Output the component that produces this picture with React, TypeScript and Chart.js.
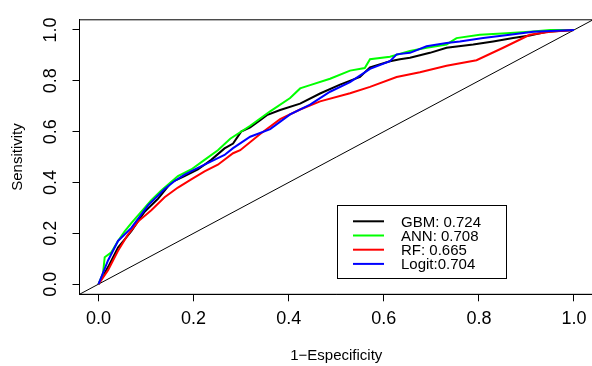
import React, { useEffect, useRef } from "react";
import { Chart, registerables } from "chart.js";

Chart.register(...registerables);

// ---- data ----
const seriesLabels = ["GBM: 0.724", "ANN: 0.708", "RF: 0.665", "Logit:0.704"];
const seriesColors = ["#000000", "#00FF00", "#FF0000", "#0000FF"];

const gbmX = [0, 0.02, 0.041, 0.069, 0.097, 0.125, 0.153, 0.181, 0.209, 0.237, 0.265, 0.283, 0.3, 0.319, 0.34, 0.354, 0.382, 0.424, 0.466, 0.508, 0.55, 0.571, 0.613, 0.634, 0.655, 0.697, 0.732, 0.788, 0.83, 0.872, 0.907, 0.943, 1];
const gbmY = [0, 0.067, 0.144, 0.208, 0.285, 0.336, 0.4, 0.425, 0.451, 0.489, 0.534, 0.553, 0.6, 0.617, 0.645, 0.665, 0.685, 0.71, 0.75, 0.785, 0.815, 0.853, 0.877, 0.885, 0.891, 0.91, 0.93, 0.943, 0.955, 0.968, 0.978, 0.993, 1];

const annX = [0, 0.0095, 0.013, 0.027, 0.041, 0.055, 0.069, 0.09, 0.111, 0.132, 0.167, 0.195, 0.223, 0.251, 0.277, 0.319, 0.361, 0.403, 0.424, 0.445, 0.487, 0.529, 0.56, 0.571, 0.613, 0.655, 0.69, 0.732, 0.753, 0.802, 0.858, 0.907, 0.95, 1];
const annY = [0, 0.042, 0.106, 0.125, 0.17, 0.208, 0.24, 0.285, 0.33, 0.368, 0.425, 0.451, 0.489, 0.527, 0.572, 0.623, 0.68, 0.732, 0.77, 0.783, 0.808, 0.84, 0.85, 0.885, 0.895, 0.917, 0.93, 0.943, 0.968, 0.981, 0.987, 0.993, 1, 1];

const rfX = [0, 0.02, 0.041, 0.062, 0.083, 0.111, 0.139, 0.167, 0.195, 0.223, 0.251, 0.283, 0.298, 0.34, 0.382, 0.424, 0.466, 0.529, 0.571, 0.627, 0.676, 0.732, 0.795, 0.851, 0.907, 0.95, 1];
const rfY = [0, 0.055, 0.131, 0.195, 0.246, 0.291, 0.342, 0.38, 0.412, 0.444, 0.47, 0.515, 0.527, 0.591, 0.649, 0.687, 0.719, 0.751, 0.776, 0.815, 0.834, 0.859, 0.881, 0.93, 0.981, 0.993, 1];

const logitX = [0, 0.02, 0.041, 0.069, 0.104, 0.139, 0.16, 0.181, 0.209, 0.237, 0.265, 0.283, 0.319, 0.361, 0.403, 0.445, 0.487, 0.529, 0.571, 0.613, 0.627, 0.655, 0.69, 0.732, 0.76, 0.809, 0.865, 0.914, 0.964, 1];
const logitY = [0, 0.093, 0.17, 0.221, 0.31, 0.374, 0.406, 0.431, 0.457, 0.483, 0.508, 0.535, 0.58, 0.61, 0.668, 0.706, 0.757, 0.795, 0.847, 0.877, 0.904, 0.91, 0.936, 0.949, 0.955, 0.968, 0.981, 0.993, 0.997, 1];

const diagX = [-0.04, 1.04];
const diagY = [-0.04, 1.04];

const tickValues = [0, 0.2, 0.4, 0.6, 0.8, 1.0];
const axisMin = -0.04;
const axisMax = 1.04;
const xTitle = "1\u2212Especificity";
const yTitle = "Sensitivity";

const FONT = "'Liberation Sans', Arial, Helvetica, sans-serif";

const boxPlugin = {
  id: "rbox",
  afterDraw(chart: any) {
    const { ctx, chartArea } = chart;
    ctx.save();
    ctx.strokeStyle = "#000";
    ctx.lineWidth = 1;
    ctx.strokeRect(chartArea.left, chartArea.top, chartArea.right - chartArea.left, chartArea.bottom - chartArea.top);
    ctx.restore();
  },
};

const legendPlugin = {
  id: "rlegend",
  afterDraw(chart: any) {
    const { ctx } = chart;
    ctx.save();
    ctx.fillStyle = "#fff";
    ctx.fillRect(337.5, 205.5, 169, 73);
    ctx.strokeStyle = "#000";
    ctx.lineWidth = 1;
    ctx.strokeRect(337.5, 205.5, 169, 73);
    ctx.font = `15px ${FONT}`;
    ctx.textBaseline = "alphabetic";
    ctx.textAlign = "left";
    seriesLabels.forEach((lab, i) => {
      const y = 221.3 + 14.2 * i;
      ctx.strokeStyle = seriesColors[i];
      ctx.lineWidth = 2;
      ctx.beginPath();
      ctx.moveTo(353, y);
      ctx.lineTo(384, y);
      ctx.stroke();
      ctx.fillStyle = "#000";
      ctx.fillText(lab, 401, y + 5.3);
    });
    ctx.restore();
  },
};

export default function App() {
  const ref = useRef<HTMLCanvasElement>(null);
  useEffect(() => {
    const canvas = ref.current!;
    const mk = (xs: number[], ys: number[]) => xs.map((x, i) => ({ x, y: ys[i] }));
    const series = [mk(gbmX, gbmY), mk(annX, annY), mk(rfX, rfY), mk(logitX, logitY)];
    const datasets: any[] = series.map((d, i) => ({
      label: seriesLabels[i],
      data: d,
      borderColor: seriesColors[i],
      backgroundColor: seriesColors[i],
      borderWidth: 2,
      showLine: true,
      pointRadius: 0,
      fill: false,
      tension: 0,
      order: 4 - i,
    }));
    datasets.push({
      label: "diag",
      data: mk(diagX, diagY),
      borderColor: "#000",
      backgroundColor: "#000",
      borderWidth: 1,
      showLine: true,
      pointRadius: 0,
      fill: false,
      order: 10,
    });
    const chart = new Chart(canvas, {
      type: "scatter",
      data: { datasets },
      options: {
        responsive: false,
        animation: false,
        devicePixelRatio: 1,
        layout: { padding: { top: 12.9, right: 7, left: 0, bottom: 0 } },
        plugins: { legend: { display: false }, tooltip: { enabled: false } },
        scales: {
          x: {
            type: "linear",
            min: axisMin,
            max: axisMax,
            position: "bottom",
            afterBuildTicks: (s: any) => {
              s.ticks = tickValues.map((v) => ({ value: v }));
            },
            afterFit: (s: any) => {
              s.height = 71.7;
            },
            grid: { drawOnChartArea: false, drawTicks: true, tickLength: 7, color: "#000", lineWidth: 1 },
            border: { display: true, color: "#000", width: 1 },
            ticks: {
              autoSkip: false,
              maxRotation: 0,
              minRotation: 0,
              padding: 7,
              color: "#000",
              font: { family: FONT, size: 18 },
              callback: (v: any) => Number(v).toFixed(1),
            },
            title: { display: true, text: xTitle, color: "#000", font: { family: FONT, size: 15 }, padding: { top: 0, bottom: 1 } },
          },
          y: {
            type: "linear",
            min: axisMin,
            max: axisMax,
            position: "left",
            afterBuildTicks: (s: any) => {
              s.ticks = tickValues.map((v) => ({ value: v }));
            },
            afterFit: (s: any) => {
              s.width = 79.5;
            },
            grid: { drawOnChartArea: false, drawTicks: true, tickLength: 7, color: "#000", lineWidth: 1 },
            border: { display: true, color: "#000", width: 1 },
            ticks: {
              autoSkip: false,
              maxRotation: 90,
              minRotation: 90,
              crossAlign: "center",
              padding: 9,
              color: "#000",
              font: { family: FONT, size: 18 },
              callback: (v: any) => Number(v).toFixed(1),
            },
            title: { display: true, text: yTitle, color: "#000", font: { family: FONT, size: 15 }, padding: { top: 8.5, bottom: 0 } },
          },
        },
      } as any,
      plugins: [boxPlugin, legendPlugin],
    });
    return () => chart.destroy();
  }, []);
  return (
    <div style={{ position: "fixed", left: 0, top: 0, width: 600, height: 366, background: "#fff" }}>
      <canvas ref={ref} width={600} height={366} style={{ display: "block", width: 600, height: 366 }} />
    </div>
  );
}
